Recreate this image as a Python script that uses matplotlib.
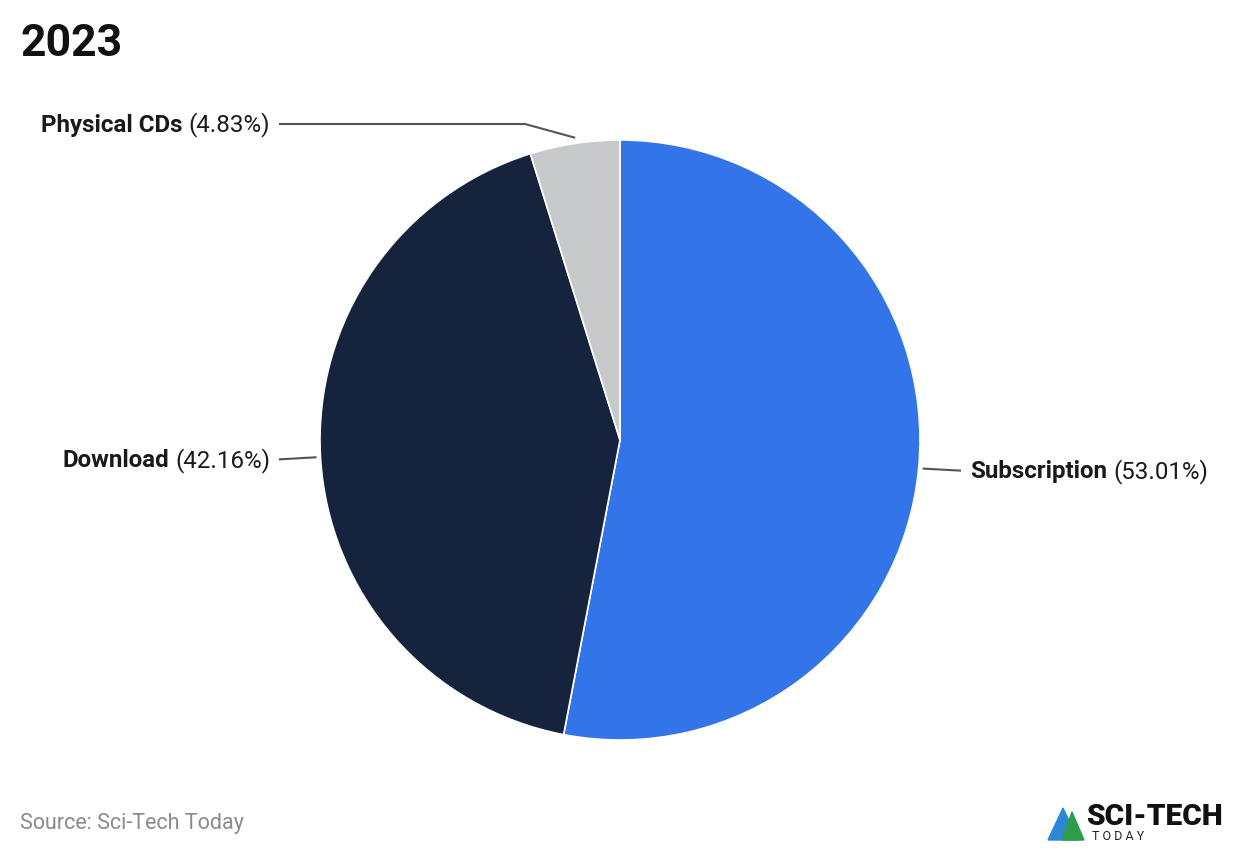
import matplotlib
matplotlib.use("Agg")
import matplotlib.pyplot as plt
import numpy as np

# data
categories = ["Subscription", "Download", "Physical CDs"]
shares = [53.01, 42.16, 4.83]
colors = ["#3375E9", "#15233C", "#C8C9CB"]

plt.rcParams["font.family"] = ["Roboto", "DejaVu Sans"]

W, H = 1240, 856
fig = plt.figure(figsize=(W / 100, H / 100), dpi=100)
ax = fig.add_axes([0, 0, 1, 1])

cx, cy, r = 620, H - 440, 300
wedges, _ = ax.pie(shares, colors=colors, startangle=90, counterclock=False,
                   center=(cx, cy), radius=r, frame=True,
                   wedgeprops=dict(edgecolor="white", linewidth=1.2))
ax.set_xlim(0, W)
ax.set_ylim(0, H)
ax.set_aspect("auto")
ax.axis("off")

renderer = fig.canvas.get_renderer()
line_kw = dict(color="#555555", lw=1.5)
LFS = 17.4


def label(x, y, name, pct, side):
    """bold name + normal percent; side='left' means text ends at x"""
    if side == "right":
        t1 = ax.text(x, y, name, fontsize=LFS, fontweight="bold", color="#1a1a1a",
                     ha="left", va="center")
        w = t1.get_window_extent(renderer).width
        ax.text(x + w + 6, y, f"({pct:.2f}%)", fontsize=LFS, color="#1a1a1a",
                ha="left", va="center")
    else:
        t2 = ax.text(x, y, f"({pct:.2f}%)", fontsize=LFS, color="#1a1a1a",
                     ha="right", va="center")
        w = t2.get_window_extent(renderer).width
        ax.text(x - w - 6, y, name, fontsize=LFS, fontweight="bold", color="#1a1a1a",
                ha="right", va="center")


for wd, name, pct in zip(wedges, categories, shares):
    ang = np.deg2rad((wd.theta1 + wd.theta2) / 2)
    ex, ey = cx + 1.01 * r * np.cos(ang), cy + 1.01 * r * np.sin(ang)
    if name == "Subscription":
        ax.plot([ex + 2, 960], [ey, ey - 2], **line_kw)
        label(970, ey - 3, name, pct, "right")
    elif name == "Download":
        ax.plot([ex - 2, 280], [ey, ey - 2], **line_kw)
        label(270, ey - 3, name, pct, "left")
    else:
        ty = H - 124
        ax.plot([ex, 525, 280], [ey + 3, ty, ty], **line_kw)
        label(270, ty - 1, name, pct, "left")

fig.text(20 / W, 1 - 44 / H, "2023", fontsize=32, fontweight="bold",
         color="#111111", ha="left", va="center")
fig.text(20 / W, 1 - 823 / H, "Source: Sci-Tech Today", fontsize=15.5,
         color="#8a8a8a", ha="left", va="center")

# logo (simplified)
fig.text(1086 / W, 1 - 817 / H, "SCI-TECH", fontsize=21.5, fontweight="black",
         color="#111111", ha="left", va="center")
fig.text(1092 / W, 1 - 837 / H, "T O D A Y", fontsize=9, color="#222222",
         ha="left", va="center")
ax.fill([1048, 1063, 1078], [H - 840, H - 808, H - 840], color="#2C86D6")
ax.fill([1062, 1072, 1084], [H - 840, H - 812, H - 840], color="#2E9D4A")

fig.savefig("out.png", dpi=100, facecolor="white")
